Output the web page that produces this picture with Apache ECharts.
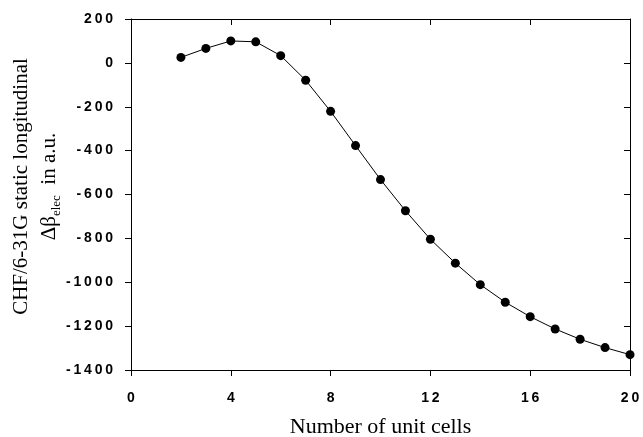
<!DOCTYPE html>
<html>
<head>
<meta charset="utf-8">
<script src="https://cdn.jsdelivr.net/npm/echarts@6/dist/echarts.min.js"></script>
<style>
  html, body { margin: 0; padding: 0; background: #fff; }
  #chart { width: 643px; height: 437px; }
</style>
</head>
<body>
<div id="chart"></div>
<script>
// number of unit cells
var cells = [2, 3, 4, 5, 6, 7, 8, 9, 10, 11, 12, 13, 14, 15, 16, 17, 18, 19, 20];
// delta beta_elec, a.u.
var dBeta = [25, 66, 100, 96, 33, -79, -221, -377, -532, -674, -804, -913, -1011, -1091, -1157, -1213, -1260, -1298, -1330];

var xTicks = { min: 0, max: 20, interval: 4 };
var yTicks = { min: -1400, max: 200, interval: 200 };

var chart = echarts.init(document.getElementById('chart'), null, { renderer: 'canvas' });

// old plotting program spaced the tick digits out a bit
function spaced(v) {
  return String(v).split('').join('\u2009');
}

var serif = 'Liberation Serif, Times New Roman, serif';
var tickFont = {
  color: '#000',
  fontFamily: 'Liberation Sans, Arial, sans-serif',
  fontWeight: 'bold',
  fontSize: 14,
  formatter: spaced
};
var lineStyle = { color: '#000', width: 1 };

var option = {
  backgroundColor: '#fff',
  animation: false,
  grid: { left: 131, right: 13, top: 19, bottom: 67, outerBoundsMode: 'none', containLabel: false },
  xAxis: [
    {
      type: 'value',
      min: xTicks.min, max: xTicks.max, interval: xTicks.interval,
      name: 'Number of unit cells',
      nameLocation: 'middle',
      nameGap: 46,
      nameTextStyle: { color: '#000', fontFamily: serif, fontSize: 22 },
      axisLine: { show: true, onZero: false, lineStyle: lineStyle },
      axisTick: { show: true, inside: false, length: 6, lineStyle: lineStyle },
      axisLabel: Object.assign({ margin: 21 }, tickFont),
      splitLine: { show: false }
    },
    {
      type: 'value',
      position: 'top',
      min: xTicks.min, max: xTicks.max, interval: xTicks.interval,
      axisLine: { show: true, onZero: false, lineStyle: lineStyle },
      axisTick: { show: true, inside: true, length: 6, lineStyle: lineStyle },
      axisLabel: { show: false },
      splitLine: { show: false }
    }
  ],
  yAxis: [
    {
      type: 'value',
      min: yTicks.min, max: yTicks.max, interval: yTicks.interval,
      name: '{t|CHF/6-31G static longitudinal}\n{t|Δβ}{s|elec}{t|  in a.u.}',
      nameLocation: 'middle',
      nameRotate: 90,
      nameGap: 68,
      nameMoveOverlap: false,
      nameTextStyle: {
        color: '#000',
        lineHeight: 28,
        padding: [0, 0, 0, 16],
        rich: {
          t: { fontFamily: serif, fontSize: 21, color: '#000', lineHeight: 28 },
          s: { fontFamily: serif, fontSize: 13, color: '#000', verticalAlign: 'bottom', lineHeight: 20 }
        }
      },
      axisLine: { show: true, onZero: false, lineStyle: lineStyle },
      axisTick: { show: true, inside: false, length: 6, lineStyle: lineStyle },
      axisLabel: Object.assign({ margin: 18 }, tickFont),
      splitLine: { show: false }
    },
    {
      type: 'value',
      position: 'right',
      min: yTicks.min, max: yTicks.max, interval: yTicks.interval,
      axisLine: { show: true, onZero: false, lineStyle: lineStyle },
      axisTick: { show: true, inside: true, length: 6, lineStyle: lineStyle },
      axisLabel: { show: false },
      splitLine: { show: false }
    }
  ],
  series: [
    {
      type: 'line',
      data: cells.map(function (c, i) { return [c, dBeta[i]]; }),
      symbol: 'circle',
      symbolSize: 9,
      itemStyle: { color: '#000' },
      lineStyle: { color: '#000', width: 1 },
      smooth: false
    }
  ]
};

chart.setOption(option);
</script>
</body>
</html>
